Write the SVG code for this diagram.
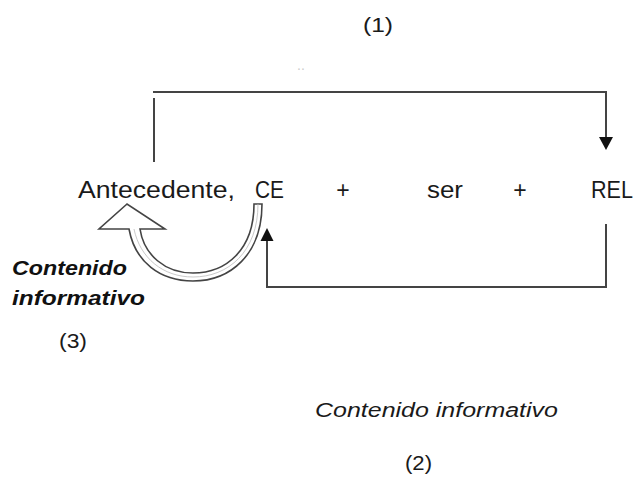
<svg xmlns="http://www.w3.org/2000/svg" width="636" height="479" viewBox="0 0 636 479">
<style>
.t{font-family:"Liberation Sans",Arial,sans-serif;fill:#1a1a1a;font-size:23px}
.s{font-family:"Liberation Sans",Arial,sans-serif;fill:#1a1a1a;font-size:20px}
.bi{font-family:"Liberation Sans",Arial,sans-serif;fill:#111;font-size:20px;font-weight:bold;font-style:italic}
.i{font-family:"Liberation Sans",Arial,sans-serif;fill:#1a1a1a;font-size:20px;font-style:italic}
.ln{fill:none;stroke:#444;stroke-width:2}
.ah{fill:#111}
</style>
<rect width="636" height="479" fill="#fff"/>
<g id="labels">
<text class="s" x="363" y="32" textLength="30" lengthAdjust="spacingAndGlyphs">(1)</text>
<text x="297" y="70" font-family="Liberation Sans, sans-serif" font-size="14" fill="#ccc">..</text>
</g>
<g id="antecedente"><text class="t" x="78" y="198" textLength="157" lengthAdjust="spacingAndGlyphs">Antecedente,</text></g>
<g id="ce"><text class="t" x="255" y="198" textLength="29" lengthAdjust="spacingAndGlyphs">CE</text></g>
<g id="plus1"><text class="t" x="343" y="198" text-anchor="middle">+</text></g>
<g id="ser"><text class="t" x="427" y="198" textLength="36" lengthAdjust="spacingAndGlyphs">ser</text></g>
<g id="plus2"><text class="t" x="520" y="198" text-anchor="middle">+</text></g>
<g id="rel"><text class="t" x="591" y="198" textLength="42" lengthAdjust="spacingAndGlyphs">REL</text></g>
<g id="contenido3">
<text class="bi" x="12" y="275" textLength="115" lengthAdjust="spacingAndGlyphs">Contenido</text>
<text class="bi" x="12" y="305" textLength="133" lengthAdjust="spacingAndGlyphs">informativo</text>
<text class="s" x="59" y="348" textLength="28" lengthAdjust="spacingAndGlyphs">(3)</text>
</g>
<g id="contenido2">
<text class="i" x="315" y="417" textLength="243" lengthAdjust="spacingAndGlyphs">Contenido informativo</text>
<text class="s" x="405" y="470" textLength="27" lengthAdjust="spacingAndGlyphs">(2)</text>
</g>
<g id="connectors">
<line class="ln" x1="154" y1="98" x2="154" y2="162"/>
<polyline class="ln" points="153,92 606,92 606,138"/>
<polygon class="ah" points="599,137 613,137 606,150"/>
<polyline class="ln" points="606,224 606,287 267,287 267,240"/>
<polygon class="ah" points="260.5,241 273.5,241 267,228"/>
<path d="M127,204 L99,229 L129,229 C135,262 160,281 193,281 C230,281 262,255 262,204 L254,204 C254,250 226,273 193,273 C165,273 144,255 140,229 L165,229 Z" fill="#fff" stroke="#444" stroke-width="1.6" stroke-linejoin="miter"/>
<path d="M134,229 C140,258 163,277 193,277 C228,277 258,252 258,204" fill="none" stroke="#bbb" stroke-width="0.8"/>
</g>
</svg>
